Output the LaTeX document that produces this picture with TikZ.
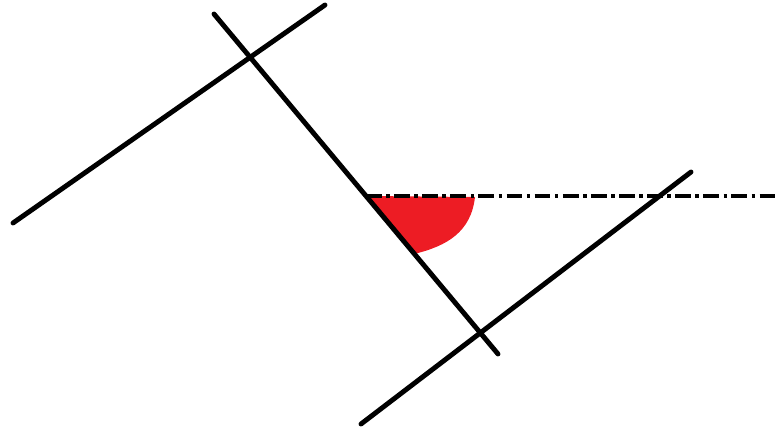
\documentclass[tikz,border=0pt]{standalone}
\usepackage{tikz}

\begin{document}
\begin{tikzpicture}[x=0.02cm, y=-0.02cm,
    line/.style={line width=2.8pt, line cap=round},
    dashdot/.style={line width=2.6pt, dash pattern=on 9pt off 2.5pt on 2pt off 2.5pt},
    angle/.style={fill={rgb,255:red,237;green,28;blue,36}}]
  \useasboundingbox (0,0) rectangle (776,429);
  \coordinate (t1) at (214, 14);
  \coordinate (t2) at (498, 354);
  \coordinate (u1) at (13, 223);
  \coordinate (u2) at (325, 5);
  \coordinate (l1) at (361, 424);
  \coordinate (l2) at (691, 172);
  \coordinate (v0) at (366, 196);
  \coordinate (d2) at (776, 196);
  \coordinate (a1) at (475, 197);
  \coordinate (a2) at (414, 254);
  \fill[angle] (v0) -- (a1) .. controls (471, 232) and (447, 246) .. (a2) -- cycle;
  \draw[line] (t1) -- (t2);
  \draw[line] (u1) -- (u2);
  \draw[line] (l1) -- (l2);
  \draw[dashdot] (v0) -- (d2);
\end{tikzpicture}
\end{document}
